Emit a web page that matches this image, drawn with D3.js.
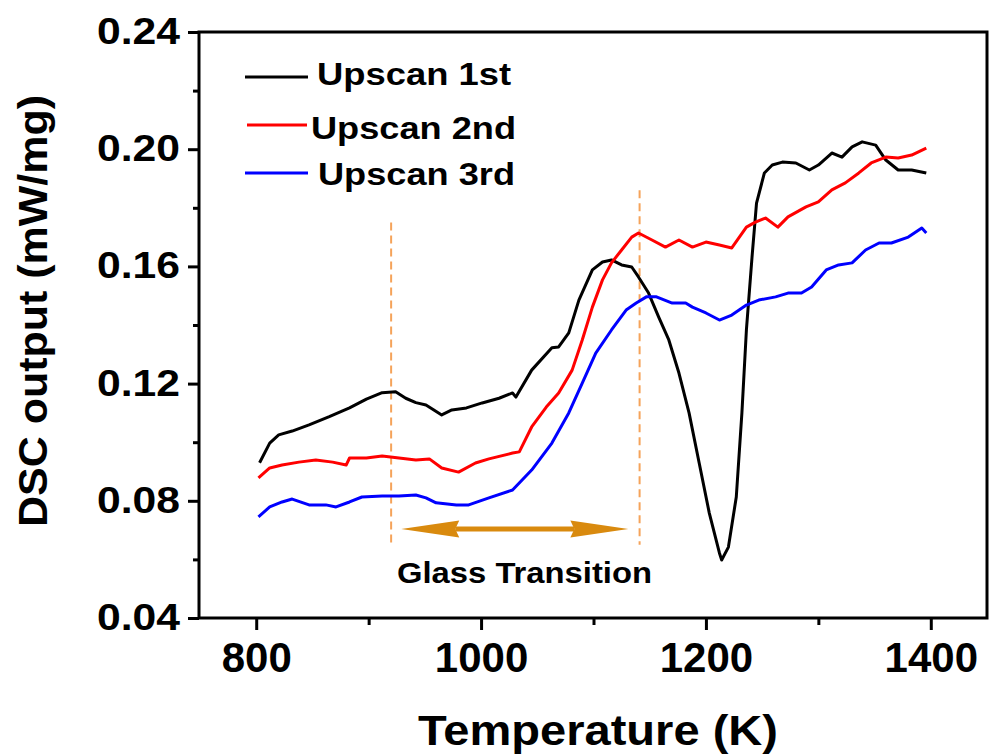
<!DOCTYPE html>
<html>
<head>
<meta charset="utf-8">
<script src="https://cdn.jsdelivr.net/npm/d3@7"></script>
<style>
  body { margin: 0; background: #fff; }
  text { font-family: "Liberation Sans", Arial, sans-serif; font-weight: bold; fill: #000; }
</style>
</head>
<body>
<svg width="989" height="755"></svg>
<script>
// series: temperature (K) and DSC output (mW/mg)
const temp1 = [803, 812, 820, 832, 847, 865, 883, 898, 912, 924, 933, 942, 951, 965, 974, 987, 1001, 1016, 1028, 1031, 1045, 1063, 1069, 1078, 1087, 1099, 1108, 1116, 1125, 1134, 1140, 1149, 1158, 1167, 1176, 1185, 1194, 1203, 1212, 1214, 1220, 1227, 1232, 1236, 1241, 1245, 1252, 1259, 1268, 1280, 1292, 1300, 1312, 1321, 1330, 1339, 1351, 1360, 1371, 1383, 1396];
const dsc1 = [0.093, 0.0997, 0.1025, 0.1038, 0.1059, 0.1087, 0.1117, 0.1147, 0.1169, 0.1172, 0.115, 0.1135, 0.1127, 0.1093, 0.111, 0.1117, 0.1134, 0.115, 0.1168, 0.1154, 0.1246, 0.1322, 0.1325, 0.1373, 0.1485, 0.1588, 0.1615, 0.1622, 0.1605, 0.1598, 0.1564, 0.1509, 0.1427, 0.1349, 0.1236, 0.11, 0.0929, 0.0758, 0.0622, 0.0598, 0.0642, 0.0813, 0.11, 0.1383, 0.1632, 0.1816, 0.1919, 0.1946, 0.1956, 0.1953, 0.1929, 0.1946, 0.1987, 0.1973, 0.2008, 0.2025, 0.2014, 0.1963, 0.1929, 0.1929, 0.1919];

const temp2 = [802, 812, 823, 838, 853, 868, 880, 883, 898, 912, 927, 942, 954, 965, 980, 995, 1007, 1028, 1034, 1045, 1058, 1069, 1081, 1090, 1099, 1108, 1116, 1125, 1134, 1140, 1152, 1164, 1176, 1188, 1200, 1212, 1223, 1236, 1244, 1253, 1264, 1273, 1289, 1300, 1312, 1324, 1336, 1347, 1360, 1371, 1383, 1396];
const dsc2 = [0.0878, 0.0912, 0.0922, 0.0932, 0.0939, 0.0932, 0.0922, 0.0946, 0.0946, 0.0953, 0.0946, 0.0939, 0.0943, 0.0912, 0.0898, 0.0929, 0.0943, 0.0963, 0.0967, 0.1052, 0.112, 0.1168, 0.1246, 0.1349, 0.1461, 0.1554, 0.1612, 0.1656, 0.17, 0.1714, 0.169, 0.1666, 0.169, 0.1666, 0.1683, 0.1673, 0.1663, 0.1734, 0.1751, 0.1765, 0.1734, 0.1769, 0.1803, 0.182, 0.1861, 0.1885, 0.1919, 0.1953, 0.1973, 0.197, 0.198, 0.2004];

const temp3 = [802, 812, 823, 832, 847, 862, 871, 883, 894, 912, 927, 942, 951, 960, 978, 989, 1007, 1028, 1045, 1063, 1078, 1090, 1102, 1116, 1129, 1138, 1147, 1156, 1170, 1182, 1188, 1200, 1212, 1223, 1236, 1247, 1262, 1273, 1285, 1294, 1307, 1318, 1330, 1342, 1354, 1365, 1380, 1392, 1396];
const dsc3 = [0.0745, 0.0779, 0.0796, 0.0806, 0.0786, 0.0786, 0.0779, 0.0796, 0.0813, 0.0816, 0.0816, 0.082, 0.081, 0.0793, 0.0786, 0.0786, 0.081, 0.0837, 0.0905, 0.0997, 0.11, 0.1202, 0.1304, 0.1383, 0.1451, 0.1475, 0.1496, 0.1496, 0.1475, 0.1475, 0.1461, 0.1441, 0.1417, 0.1434, 0.1468, 0.1485, 0.1496, 0.1509, 0.1509, 0.153, 0.1588, 0.1605, 0.1612, 0.1656, 0.168, 0.168, 0.17, 0.1731, 0.1714];

const seriesNames = ['Upscan 1st', 'Upscan 2nd', 'Upscan 3rd'];
const seriesColors = ['#000000', '#ff0000', '#0000ff'];

const xTicks = [800, 1000, 1200, 1400];
const xMinorTicks = [900, 1100, 1300];
const yTicks = [0.04, 0.08, 0.12, 0.16, 0.20, 0.24];
const yMinorTicks = [0.06, 0.10, 0.14, 0.18, 0.22];

// glass transition markers
const markerTemps = [920, 1141];
const markerTops = [0.175, 0.186];
const markerBottom = 0.065;
const arrowSpan = [929, 1131];
const arrowLevel = 0.0704;
const annotation = 'Glass Transition';

const svg = d3.select('svg');

const xScale = d3.scaleLinear().domain([750, 1450]).range([200, 987]);
const yScale = d3.scaleLinear().domain([0.04, 0.24]).range([618, 32]);

const g = svg.append('g');

// dashed markers
g.selectAll('.marker').data(markerTemps)
  .enter().append('line')
    .attr('class', 'marker')
    .attr('x1', d => xScale(d)).attr('x2', d => xScale(d))
    .attr('y1', (d, i) => yScale(markerTops[i]))
    .attr('y2', yScale(markerBottom))
    .attr('stroke', '#f5a35a')
    .attr('stroke-width', 2)
    .attr('stroke-dasharray', '8,5');

// double arrow
const ax1 = xScale(arrowSpan[0]), ax2 = xScale(arrowSpan[1]), ay = yScale(arrowLevel);
const headLen = 58, headHalf = 8.5;
const arrowColor = '#d98a0e';
g.append('line')
  .attr('x1', ax1 + headLen - 4).attr('x2', ax2 - headLen + 4)
  .attr('y1', ay).attr('y2', ay)
  .attr('stroke', arrowColor).attr('stroke-width', 5);
g.append('path')
  .attr('d', `M${ax1},${ay} L${ax1 + headLen},${ay - headHalf} L${ax1 + headLen - 4},${ay} L${ax1 + headLen},${ay + headHalf} Z`)
  .attr('fill', arrowColor);
g.append('path')
  .attr('d', `M${ax2},${ay} L${ax2 - headLen},${ay - headHalf} L${ax2 - headLen + 4},${ay} L${ax2 - headLen},${ay + headHalf} Z`)
  .attr('fill', arrowColor);

g.append('text')
  .attr('x', 397).attr('y', 583)
  .attr('font-size', 30)
  .attr('textLength', 255)
  .attr('lengthAdjust', 'spacingAndGlyphs')
  .text(annotation);

// curves
const series = [
  d3.zip(temp1, dsc1),
  d3.zip(temp2, dsc2),
  d3.zip(temp3, dsc3)
];
const line = d3.line()
  .x(d => xScale(d[0]))
  .y(d => yScale(d[1]));

g.selectAll('.curve').data(series)
  .enter().append('path')
    .attr('class', 'curve')
    .attr('d', line)
    .attr('fill', 'none')
    .attr('stroke', (d, i) => seriesColors[i])
    .attr('stroke-width', 3)
    .attr('stroke-linejoin', 'round');

// axes
const yAxis = d3.axisLeft(yScale).tickValues(yTicks).tickSize(11).tickPadding(8)
  .tickFormat(d3.format('.2f'));
const yAxisG = g.append('g').attr('transform', 'translate(199,0)').call(yAxis);
yAxisG.select('.domain').remove();
yAxisG.selectAll('line').attr('stroke-width', 3);
yAxisG.selectAll('text')
  .attr('font-size', 36)
  .attr('font-family', null)
  .attr('text-anchor', 'start')
  .attr('x', -102)
  .attr('textLength', 83)
  .attr('lengthAdjust', 'spacingAndGlyphs');

const yMinor = g.append('g').attr('transform', 'translate(199,0)')
  .call(d3.axisLeft(yScale).tickValues(yMinorTicks).tickSize(6).tickFormat(''));
yMinor.select('.domain').remove();
yMinor.selectAll('line').attr('stroke-width', 3);

const xAxis = d3.axisBottom(xScale).tickValues(xTicks).tickSize(12).tickPadding(12)
  .tickFormat(d3.format('d'));
const xAxisG = g.append('g').attr('transform', 'translate(0,618)').call(xAxis);
xAxisG.select('.domain').remove();
xAxisG.selectAll('line').attr('stroke-width', 3);
xAxisG.selectAll('text').attr('font-size', 42).attr('font-family', null);

const xMinor = g.append('g').attr('transform', 'translate(0,618)')
  .call(d3.axisBottom(xScale).tickValues(xMinorTicks).tickSize(7).tickFormat(''));
xMinor.select('.domain').remove();
xMinor.selectAll('line').attr('stroke-width', 3);

// frame
g.append('rect')
  .attr('x', 199).attr('y', 32)
  .attr('width', 987 - 199).attr('height', 618 - 32)
  .attr('fill', 'none')
  .attr('stroke', '#000')
  .attr('stroke-width', 3);

// axis titles
g.append('text')
  .attr('x', 418).attr('y', 745)
  .attr('font-size', 42)
  .attr('textLength', 360)
  .attr('lengthAdjust', 'spacingAndGlyphs')
  .text('Temperature (K)');

g.append('text')
  .attr('transform', 'translate(47,527) rotate(-90)')
  .attr('font-size', 41)
  .attr('textLength', 432)
  .attr('lengthAdjust', 'spacingAndGlyphs')
  .text('DSC output (mW/mg)');

// legend
const legendRows = [
  { y: 77, x1: 245, x2: 308, tx: 317, ty: 85, w: 194 },
  { y: 125, x1: 247, x2: 307, tx: 311, ty: 139, w: 205 },
  { y: 173, x1: 245, x2: 308, tx: 318, ty: 185, w: 197 }
];
const legend = g.selectAll('.legend').data(legendRows)
  .enter().append('g').attr('class', 'legend');
legend.append('line')
  .attr('x1', d => d.x1).attr('x2', d => d.x2)
  .attr('y1', d => d.y).attr('y2', d => d.y)
  .attr('stroke', (d, i) => seriesColors[i])
  .attr('stroke-width', 3);
legend.append('text')
  .attr('x', d => d.tx).attr('y', d => d.ty)
  .attr('font-size', 32)
  .attr('textLength', d => d.w)
  .attr('lengthAdjust', 'spacingAndGlyphs')
  .text((d, i) => seriesNames[i]);
</script>
</body>
</html>
